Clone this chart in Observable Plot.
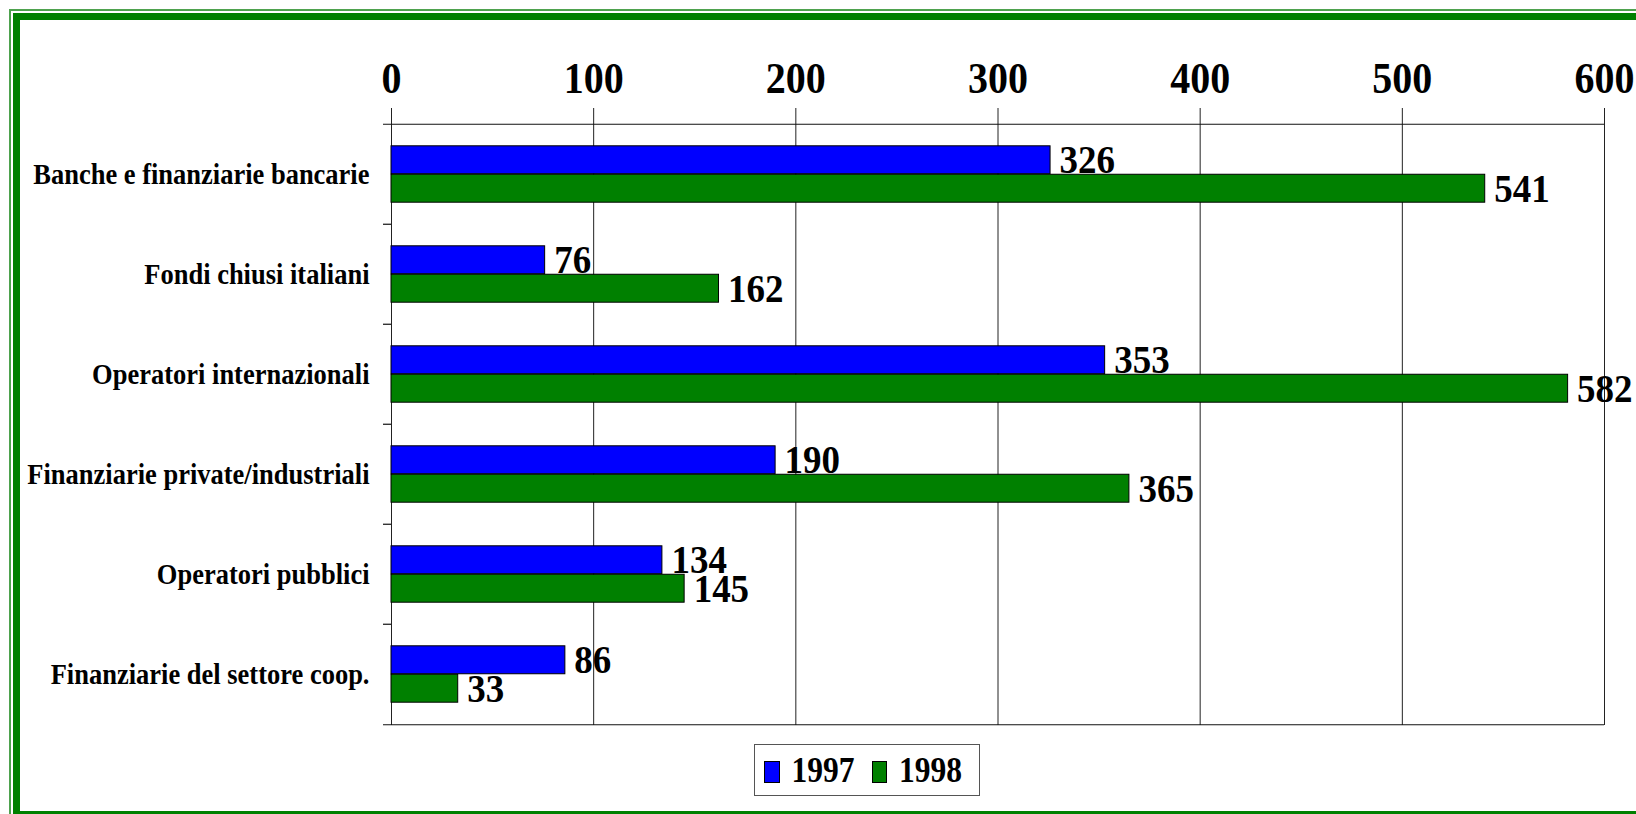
<!DOCTYPE html>
<html>
<head>
<meta charset="utf-8">
<script src="https://cdn.jsdelivr.net/npm/d3@7"></script>
<script src="https://cdn.jsdelivr.net/npm/@observablehq/plot@0.6"></script>
<style>
  html, body { margin: 0; padding: 0; background: #fff; width: 1636px; height: 814px; overflow: hidden; }
  #frame-outer { position: absolute; left: 9px; top: 9px; width: 1700px; height: 813px; border: 2px solid #4ea24e; box-sizing: border-box; }
  #frame-inner { position: absolute; left: 13px; top: 13px; width: 1700px; height: 805px; border: 7px solid #008000; box-sizing: border-box; }
  #chart { position: absolute; left: 0; top: 0; }
  #legend { position: absolute; left: 754px; top: 744px; width: 226px; height: 52px; border: 1px solid #555; box-sizing: border-box; background: #fff;
            display: flex; align-items: center; padding-left: 9px; font-family: "Liberation Serif", "Times New Roman", serif; font-weight: bold; }
  .sw { width: 18px; height: 22px; border: 1px solid #000; box-sizing: border-box; margin-right: 12px; margin-top: 3px; }
  .lt { font-size: 31.5px; transform: scaleY(1.17); display: inline-block; margin-right: 17px; line-height: 1; }
</style>
</head>
<body>
<div id="frame-outer"></div>
<div id="frame-inner"></div>
<div id="chart"></div>
<div id="legend"></div>
<script>
const categories = [
  "Banche e finanziarie bancarie",
  "Fondi chiusi italiani",
  "Operatori internazionali",
  "Finanziarie private/industriali",
  "Operatori pubblici",
  "Finanziarie del settore coop."
];
const values1997 = [326, 76, 353, 190, 134, 86];
const values1998 = [541, 162, 582, 365, 145, 33];
const years = ["1997", "1998"];
const colors = ["#0000ff", "#008000"];
const xTicks = [0, 100, 200, 300, 400, 500, 600];

const data1997 = categories.map((c, i) => ({category: c, value: values1997[i]}));
const data1998 = categories.map((c, i) => ({category: c, value: values1998[i]}));

const W = 1636, H = 740;
const mTop = 122, mBottom = 15, mLeft = 391, mRight = 32;
const band = (H - mTop - mBottom) / categories.length;
const gap = 21.8;
const half = band / 2;
const barOff = (half - gap) / 2;
const font = '"Liberation Serif", "Times New Roman", serif';

const svg = Plot.plot({
  width: W,
  height: H,
  marginTop: mTop,
  marginBottom: mBottom,
  marginLeft: mLeft,
  marginRight: mRight,
  style: {fontFamily: font, background: "transparent", overflow: "visible"},
  x: {domain: [0, 600], axis: null},
  y: {domain: categories, padding: 0, axis: null},
  marks: [
    // vertical gridlines + top ticks
    Plot.ruleX(xTicks, {x: d => d, stroke: "#222", strokeWidth: 1, insetTop: -14}),
    // top line and category boundary ticks
    Plot.ruleY(categories, {y: d => d, dy: -half, x1: 0, x2: (d, i) => i === 0 ? 600 : 0, insetLeft: -8, stroke: "#111", strokeWidth: 1.2}),
    // bottom line
    Plot.ruleY([categories[categories.length - 1]], {y: d => d, dy: half, x1: 0, x2: 600, insetLeft: -8, stroke: "#111", strokeWidth: 1.2}),
    // tick labels
    Plot.text(xTicks, {x: d => d, frameAnchor: "top", dy: -62, text: d => String(d), fontSize: 40, fontWeight: "bold", fill: "#000"}),
    // category labels
    Plot.text(categories, {y: d => d, frameAnchor: "left", dx: -22, textAnchor: "end", fontSize: 26.5, fontWeight: "bold", fill: "#000"}),
    // bars
    Plot.barX(data1997, {x1: 0, x2: "value", y: "category", fill: colors[0], stroke: "#000", strokeWidth: 1, insetTop: gap, insetBottom: half}),
    Plot.barX(data1998, {x1: 0, x2: "value", y: "category", fill: colors[1], stroke: "#000", strokeWidth: 1, insetTop: half, insetBottom: gap}),
    // value labels
    Plot.text(data1997, {x: "value", y: "category", text: d => String(d.value), dx: 9, dy: -barOff, textAnchor: "start", fontSize: 37, fontWeight: "bold", fill: "#000"}),
    Plot.text(data1998, {x: "value", y: "category", text: d => String(d.value), dx: 9, dy: barOff, textAnchor: "start", fontSize: 37, fontWeight: "bold", fill: "#000"})
  ]
});

// vertical stretch of text groups to mimic the original rendering
const sy = [1.13, 1.12, 1.1, 1.1];
svg.querySelectorAll('g[aria-label="text"]').forEach((g, k) => {
  g.querySelectorAll("text").forEach(t => {
    const tr = t.getAttribute("transform") || "";
    t.setAttribute("transform", tr + ` scale(1,${sy[k] || 1})`);
  });
});

document.getElementById("chart").appendChild(svg);

// legend
const legend = d3.select("#legend");
years.forEach((y, i) => {
  legend.append("div").attr("class", "sw").style("background", colors[i]);
  legend.append("span").attr("class", "lt").text(y);
});
</script>
</body>
</html>
